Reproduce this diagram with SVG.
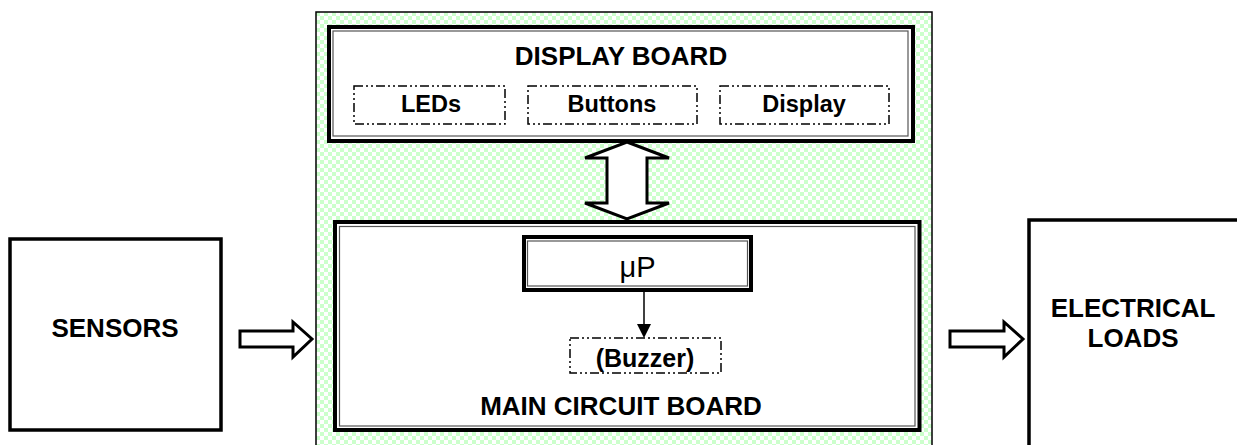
<svg xmlns="http://www.w3.org/2000/svg" width="1237" height="445" viewBox="0 0 1237 445">
<defs>
<pattern id="chk" x="0" y="0" width="8" height="8" patternUnits="userSpaceOnUse">
<rect width="8" height="8" fill="#ffffff"/>
<rect x="0" y="0" width="4" height="4" fill="#ccffcc"/>
<rect x="4" y="4" width="4" height="4" fill="#ccffcc"/>
</pattern>
</defs>
<style>
.lbl{font-family:"Liberation Sans",Arial,sans-serif;font-weight:bold;fill:#000;text-anchor:middle}
.big{font-size:26px}
.mid{font-size:23.5px}
.thick{fill:#fff;stroke:#000;stroke-width:4}
.thin{fill:none;stroke:#555;stroke-width:1.2}
.dash{fill:none;stroke:#000;stroke-width:1.5;stroke-dasharray:9 3 2 3 2 3}
.box{fill:#fff;stroke:#000;stroke-width:3.5}
.hollow{fill:#fff;stroke:#000;stroke-width:3;stroke-linejoin:miter}
</style>
<rect width="1237" height="445" fill="#fff"/>

<g id="controller">
<rect x="316" y="12" width="616" height="440" fill="url(#chk)" stroke="#000" stroke-width="1.5"/>
</g>

<g id="display-board">
<rect class="thick" x="329" y="27" width="584" height="114"/>
<rect class="thin" x="333" y="31" width="575" height="105"/>
<text class="lbl big" x="621" y="65">DISPLAY BOARD</text>
</g>
<g id="leds">
<rect class="dash" x="354" y="86" width="151" height="38"/>
<text class="lbl mid" x="431" y="112">LEDs</text>
</g>
<g id="buttons">
<rect class="dash" x="528" y="86" width="169" height="38"/>
<text class="lbl mid" x="612" y="112">Buttons</text>
</g>
<g id="display">
<rect class="dash" x="720" y="86" width="169" height="38"/>
<text class="lbl mid" x="804" y="112">Display</text>
</g>

<g id="main-board">
<rect class="thick" x="335" y="222" width="584.5" height="208"/>
<rect class="thin" x="339.5" y="226.5" width="575.5" height="199.5"/>
<text class="lbl big" x="621" y="415">MAIN CIRCUIT BOARD</text>
</g>
<g id="up">
<rect class="thick" x="524" y="237" width="227" height="53"/>
<rect class="thin" x="527.5" y="241" width="220" height="45"/>
<text x="637.5" y="277" style="font-family:'Liberation Sans',Arial,sans-serif;font-size:29px;text-anchor:middle;fill:#000">μP</text>
</g>
<g id="buzzer">
<rect class="dash" x="570" y="338" width="151" height="35"/>
<text class="lbl" x="645" y="367" style="font-size:25px">(Buzzer)</text>
</g>

<g id="sensors">
<rect class="box" x="10" y="239" width="211" height="191"/>
<text class="lbl big" x="115" y="337">SENSORS</text>
</g>
<g id="loads">
<rect class="box" x="1029" y="220" width="230" height="240"/>
<text class="lbl big" x="1133" y="317">ELECTRICAL</text>
<text class="lbl big" x="1133" y="347">LOADS</text>
</g>

<g id="connectors">
<polygon class="hollow" points="627,142 669,158 647,158 647,203 669,203 627,219 585,203 607,203 607,158 585,158"/>
<polygon class="hollow" points="240,331 293,331 293,322 312,339 293,357 293,347 240,347"/>
<polygon class="hollow" points="950,331 1004,331 1004,322 1023,339 1004,357 1004,347 950,347"/>
<line x1="644" y1="290" x2="644" y2="325" stroke="#000" stroke-width="1.5"/>
<polygon points="637,324 651,324 644,338" fill="#000"/>
</g>
</svg>
